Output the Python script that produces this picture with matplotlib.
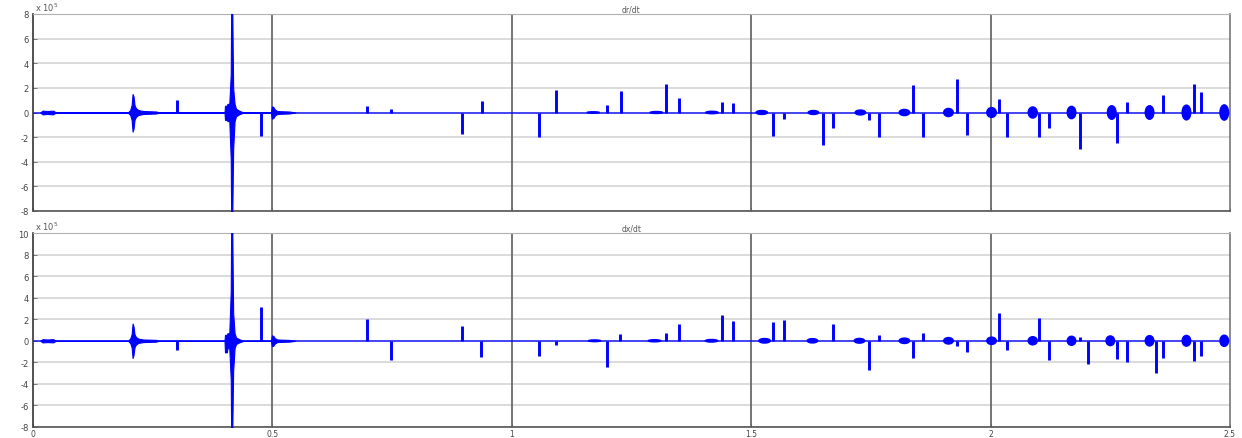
import matplotlib
matplotlib.use("Agg")
import matplotlib.pyplot as plt
from matplotlib.patches import Ellipse

# ---- time axis --------------------------------------------------------
t_start, t_end = 0.0, 2.5
x_ticks = [0, 0.5, 1, 1.5, 2, 2.5]
x_tick_labels = ["0", "0.5", "1", "1.5", "2", "2.5"]

# ---- dr/dt (units of 1e5) ---------------------------------------------
dr_spike_t = [0.300, 0.476, 0.697, 0.747, 0.896, 0.937, 1.056, 1.092, 1.198, 1.228,
              1.323, 1.349, 1.438, 1.461, 1.545, 1.568, 1.649, 1.670, 1.745, 1.766,
              1.837, 1.858, 1.929, 1.950, 2.017, 2.035, 2.102, 2.121, 2.186, 2.265,
              2.284, 2.361, 2.424, 2.440]
dr_spike_v = [1.0, -1.9, 0.5, 0.27, -1.73, 0.95, -1.95, 1.84, 0.6, 1.76,
              2.28, 1.17, 0.87, 0.79, -1.9, -0.54, -2.66, -1.25, -0.6, -1.95,
              2.25, -1.95, 2.76, -1.84, 1.08, -1.95, -2.0, -1.25, -2.98, -2.44,
              0.89, 1.44, 2.28, 1.63]
dr_blob_t = [1.170, 1.302, 1.418, 1.522, 1.630, 1.728, 1.820, 1.912, 2.002, 2.088,
             2.169, 2.253, 2.332, 2.409, 2.488]
dr_blob_h = [0.06, 0.08, 0.10, 0.16, 0.16, 0.20, 0.25, 0.33, 0.40, 0.45,
             0.50, 0.55, 0.55, 0.60, 0.62]
dr_blob_w = [0.026, 0.026, 0.026, 0.024, 0.022, 0.022, 0.022, 0.020, 0.020, 0.019,
             0.018, 0.018, 0.018, 0.018, 0.018]
# oscillation envelopes of the early transients (upper / lower)
dr_env_t = [0.015, 0.020, 0.030, 0.042, 0.048,
            0.198, 0.203, 0.206, 0.208, 0.210, 0.212, 0.215, 0.220, 0.230, 0.245, 0.258, 0.262,
            0.400, 0.401, 0.405, 0.406, 0.410, 0.413, 0.414, 0.416, 0.418, 0.421, 0.424, 0.432, 0.440,
            0.497, 0.499, 0.502, 0.505, 0.510, 0.520, 0.535, 0.548]
dr_env_hi = [0.0, 0.15, 0.12, 0.15, 0.0,
             0.0, 0.2, 0.6, 1.5, 1.3, 0.6, 0.35, 0.2, 0.12, 0.1, 0.08, 0.0,
             0.0, 0.55, 0.55, 0.7, 0.7, 3.1, 9.0, 9.0, 2.0, 0.7, 0.3, 0.12, 0.0,
             0.0, 0.5, 0.45, 0.25, 0.12, 0.1, 0.08, 0.0]
dr_env_lo = [0.0, -0.15, -0.12, -0.15, 0.0,
             0.0, -0.2, -0.6, -1.55, -1.3, -0.6, -0.35, -0.2, -0.12, -0.1, -0.08, 0.0,
             0.0, -0.6, -0.6, -0.7, -0.7, -3.8, -9.0, -9.0, -3.0, -0.7, -0.3, -0.12, 0.0,
             0.0, -0.5, -0.45, -0.25, -0.12, -0.1, -0.08, 0.0]

# ---- dx/dt (units of 1e5) ---------------------------------------------
dx_spike_t = [0.300, 0.476, 0.697, 0.747, 0.896, 0.935, 1.056, 1.092, 1.198, 1.225,
              1.323, 1.349, 1.438, 1.461, 1.545, 1.568, 1.670, 1.745, 1.766, 1.837,
              1.858, 1.929, 1.950, 2.017, 2.035, 2.102, 2.121, 2.186, 2.203, 2.265,
              2.284, 2.346, 2.361, 2.424, 2.440]
dx_spike_v = [-0.86, 3.12, 2.05, -1.77, 1.38, -1.53, -1.38, -0.37, -2.39, 0.67,
              0.76, 1.53, 2.39, 1.8, 1.77, 1.93, 1.59, -2.69, 0.55, -1.59,
              0.7, -0.46, -1.07, 2.6, -0.83, 2.08, -1.74, 0.37, -2.14, -1.68,
              -1.99, -2.97, -1.59, -1.9, -1.38]
dx_blob_t = [1.173, 1.298, 1.417, 1.528, 1.628, 1.726, 1.820, 1.912, 2.002, 2.088,
             2.169, 2.250, 2.332, 2.409, 2.488]
dx_blob_h = [0.08, 0.10, 0.12, 0.21, 0.20, 0.22, 0.25, 0.30, 0.34, 0.38,
             0.42, 0.45, 0.48, 0.50, 0.52]
dx_blob_w = dr_blob_w
dx_env_t = dr_env_t
dx_env_hi = [0.0, 0.15, 0.12, 0.15, 0.0,
             0.0, 0.2, 0.6, 1.6, 1.3, 0.6, 0.35, 0.2, 0.12, 0.1, 0.08, 0.0,
             0.0, 0.55, 0.55, 0.7, 0.7, 4.6, 11.0, 11.0, 2.6, 0.7, 0.3, 0.12, 0.0,
             0.0, 0.5, 0.45, 0.25, 0.12, 0.1, 0.08, 0.0]
dx_env_lo = [0.0, -0.15, -0.12, -0.15, 0.0,
             0.0, -0.2, -0.6, -1.6, -1.3, -0.6, -0.35, -0.2, -0.12, -0.1, -0.08, 0.0,
             0.0, -1.07, -1.07, -0.7, -0.7, -3.6, -9.0, -9.0, -2.8, -0.7, -0.3, -0.12, 0.0,
             0.0, -0.5, -0.45, -0.25, -0.12, -0.1, -0.08, 0.0]

BLUE = (0.0, 0.0, 1.0)
W, H, DPI = 1242, 439, 100


def draw_panel(ax, title, ylim, yticks, spk_t, spk_v, blob_t, blob_h, blob_w,
               env_t, env_hi, env_lo, show_xlabels):
    ax.set_xlim(t_start, t_end)
    ax.set_ylim(*ylim)
    ax.set_yticks(yticks)
    ax.set_yticklabels([str(v) for v in yticks])
    ax.set_xticks(x_ticks)
    if show_xlabels:
        ax.set_xticklabels(x_tick_labels)
    else:
        ax.set_xticklabels([])

    # grid: light horizontal lines, darker vertical lines
    for yv in yticks:
        ax.axhline(yv, color="#d8d8d8", lw=1.3, zorder=0)
    for xv in x_ticks[1:-1]:
        ax.axvline(xv, color="#6a6a6a", lw=1.3, zorder=0)

    # baseline
    ax.plot([t_start, t_end], [0, 0], color=BLUE, lw=1.2, alpha=0.8, zorder=2)

    # early transients
    ax.fill_between(env_t, env_lo, env_hi, color=BLUE, lw=0.8, zorder=3)

    # periodic oscillation bursts
    for tc, hh, ww in zip(blob_t, blob_h, blob_w):
        ax.add_patch(Ellipse((tc, 0), ww, 2 * hh, color=BLUE, zorder=3))

    # isolated spikes
    ax.vlines(spk_t, 0, spk_v, color=BLUE, lw=2.1, zorder=4)

    ax.tick_params(axis="both", direction="in", length=3, width=0.6,
                   colors="#666666", labelsize=6, labelcolor="#444444", pad=3)
    ax.tick_params(axis="x", labelsize=5.5, pad=1.5)
    ax.spines["left"].set_color("#333333")
    ax.spines["left"].set_linewidth(1.2)
    ax.spines["bottom"].set_color("#555555")
    ax.spines["bottom"].set_linewidth(1.2)
    ax.spines["top"].set_color("#b0b0b0")
    ax.spines["top"].set_linewidth(0.8)
    ax.spines["right"].set_color("#777777")
    ax.spines["right"].set_linewidth(1.2)

    ax.set_title(title, fontsize=5.5, color="#555555", pad=2)
    ax.text(0.002, 1.004, r"x 10$^{5}$", transform=ax.transAxes,
            fontsize=6, color="#555555", ha="left", va="bottom")


fig = plt.figure(figsize=(W / DPI, H / DPI), dpi=DPI)
ax1 = fig.add_axes([33 / W, 1 - 212 / H, 1197 / W, 197 / H])
ax2 = fig.add_axes([33 / W, 1 - 428 / H, 1197 / W, 194 / H])

draw_panel(ax1, "dr/dt", (-8, 8), list(range(-8, 9, 2)),
           dr_spike_t, dr_spike_v, dr_blob_t, dr_blob_h, dr_blob_w,
           dr_env_t, dr_env_hi, dr_env_lo, show_xlabels=False)
draw_panel(ax2, "dx/dt", (-8, 10), list(range(-8, 11, 2)),
           dx_spike_t, dx_spike_v, dx_blob_t, dx_blob_h, dx_blob_w,
           dx_env_t, dx_env_hi, dx_env_lo, show_xlabels=True)

fig.savefig("out.png", dpi=DPI, facecolor="white")
